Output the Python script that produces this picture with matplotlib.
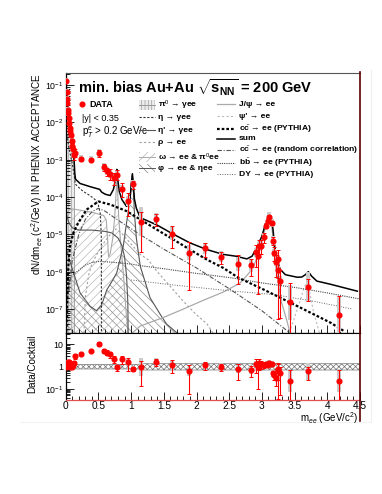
import numpy as np
import matplotlib
matplotlib.use("Agg")
import matplotlib.pyplot as plt
from matplotlib.patches import Rectangle
from matplotlib.lines import Line2D
from matplotlib.ticker import MultipleLocator, LogLocator, FixedLocator, FixedFormatter, NullFormatter

plt.rcParams['font.family'] = ['Liberation Sans', 'DejaVu Sans']
plt.rcParams['mathtext.fontset'] = 'custom'
plt.rcParams['mathtext.rm'] = 'Liberation Sans'
plt.rcParams['mathtext.it'] = 'Liberation Sans:italic'
plt.rcParams['mathtext.bf'] = 'Liberation Sans:bold'
plt.rcParams['hatch.linewidth'] = 0.5

# ---- data points (mass in GeV/c^2) ----
mass = [0.01, 0.015, 0.02, 0.025, 0.03, 0.036, 0.046, 0.05, 0.061, 0.071, 0.082, 0.092, 0.10, 0.11, 0.12, 0.14,
        0.235, 0.38, 0.505, 0.586, 0.637, 0.68, 0.74, 0.785, 0.86, 0.953, 1.035, 1.157, 1.376, 1.63, 1.88, 2.13,
        2.38, 2.63, 2.83, 2.915, 2.935, 2.96, 2.99, 3.03, 3.07, 3.09, 3.11, 3.15, 3.17, 3.19, 3.21, 3.24, 3.25,
        3.28, 3.435, 3.705, 4.18]
dndm = [0.13, 0.066, 0.042, 0.032, 0.022, 0.0175, 0.0129, 0.0095, 0.0069, 0.0057, 0.0046, 0.0032, 0.0023, 0.0019,
        0.00134, 0.00155, 1.05e-3, 1.0e-3, 1.5e-3, 6.3e-4, 4.9e-4, 4.2e-4, 3.2e-4, 4.0e-4, 1.66e-4, 7.8e-5, 2.2e-4,
        2.2e-5, 2.6e-5, 1.05e-5, 3.2e-6, 4.2e-6, 2.5e-6, 1.6e-6, 1.5e-6, 3.3e-6, 2.6e-6, 4.8e-6, 5.0e-6, 8.5e-6,
        1.7e-5, 2.3e-5, 3.0e-5, 2.0e-5, 6.8e-6, 3.2e-6, 1.8e-6, 1.1e-6, 2.2e-6, 5.8e-7, 1.5e-7, 4.0e-7, 7.1e-8]
ratio = [1.0, 1.3, 1.15, 1.2, 1.6, 1.3, 1.4, 1.6, 1.5, 1.0, 1.1, 1.0, 1.05, 1.2, 1.5, 2.9,
         3.66, 5.1, 10.2, 4.97, 4.3, 3.66, 2.12, 0.93, 2.1, 1.56, 0.8, 0.93, 1.67, 1.23, 0.6, 1.19,
         1.0, 0.79, 0.71, 1.31, 0.93, 1.4, 1.31, 1.19, 1.31, 1.19, 1.5, 1.31, 0.5, 0.43, 0.32, 0.71, 0.79,
         0.5, 0.215, 0.6, 0.215]
stat_rel = [0.03, 0.04, 0.05, 0.05, 0.06, 0.06, 0.07, 0.08, 0.1, 0.1, 0.12, 0.15, 0.2, 0.2, 0.25, 0.25,
            0.1, 0.1, 0.2, 0.2, 0.25, 0.3, 0.35, 0.3, 0.4, 0.6, 0.25, 0.85, 0.35, 0.6, 0.9, 0.4,
            0.35, 0.7, 0.5, 0.6, 0.9, 0.5, 0.4, 0.3, 0.15, 0.12, 0.1, 0.12, 0.25, 0.4, 0.6, 0.95, 0.7,
            0.9, 2.3, 0.6, 2.1]
sys_fac = [1.2, 1.2, 1.2, 1.2, 1.2, 1.2, 1.2, 1.2, 1.2, 1.2, 1.2, 1.2, 1.2, 1.2, 1.2, 1.2,
           1.25, 1.25, 1.3, 1.3, 1.3, 1.3, 1.3, 1.3, 1.3, 1.4, 1.3, 2.5, 1.4, 1.5, 1.6, 1.4,
           1.4, 1.5, 1.5, 1.3, 1.3, 1.3, 1.3, 1.3, 1.3, 1.3, 1.3, 1.3, 1.3, 1.3, 1.3, 1.3, 1.3,
           1.3, 3.0, 2.5, 3.0]

# ---- cocktail components ----
pi0_x = [0.0, 0.005, 0.02, 0.04, 0.06, 0.08, 0.10, 0.12, 0.13, 0.134, 0.135]
pi0_y = [0.14, 0.11, 0.042, 0.017, 0.0085, 0.0046, 0.0025, 0.0012, 6e-4, 2e-4, 2.3e-8]
eta_x = [0.0, 0.01, 0.05, 0.1, 0.15, 0.2, 0.25, 0.3, 0.35, 0.4, 0.45, 0.5, 0.53, 0.545, 0.547]
eta_y = [0.02, 6e-3, 2e-3, 8e-4, 2.2e-4, 1.8e-4, 1.5e-4, 1.3e-4, 1.15e-4, 1.0e-4, 8.5e-5, 6e-5, 3.5e-5, 8e-6, 2.3e-8]
etap_x = [0.0, 0.05, 0.1, 0.2, 0.3, 0.4, 0.5, 0.6, 0.7, 0.8, 0.86, 0.9, 0.93, 0.95, 0.955]
etap_y = [4e-5, 2e-5, 1.5e-5, 1.3e-5, 1.3e-5, 1.3e-5, 1.25e-5, 1.2e-5, 1.1e-5, 8e-6, 5e-6, 2.5e-6, 8e-7, 1.5e-7, 2.3e-8]
rho_x = [0.28, 0.3, 0.35, 0.4, 0.5, 0.6, 0.7, 0.77, 0.85, 1.0, 1.14, 1.26, 1.4, 1.6, 1.8, 2.0, 2.16, 2.25]
rho_y = [2.3e-8, 2e-7, 8e-7, 1.6e-6, 3.5e-6, 6.5e-6, 1.1e-5, 1.4e-5, 1.1e-5, 5.5e-6, 2.9e-6, 2.1e-6, 1e-6, 4e-7,
         1.6e-7, 7e-8, 4e-8, 2.3e-8]
omega_x = [0.0, 0.05, 0.1, 0.2, 0.3, 0.4, 0.5, 0.58, 0.62, 0.64, 0.655, 0.68, 0.72, 0.75, 0.77, 0.782, 0.795,
           0.81, 0.84, 0.88, 0.92, 0.95]
omega_y = [3e-5, 4.5e-5, 4.8e-5, 4.5e-5, 4.2e-5, 3.9e-5, 3.5e-5, 3.2e-5, 2.4e-5, 8e-6, 2.5e-6, 3e-6, 8e-6, 3e-5,
           1.3e-4, 3.2e-4, 1.3e-4, 3e-5, 6e-6, 1e-6, 1e-7, 2.3e-8]
phi_x = [0.0, 0.04, 0.1, 0.22, 0.37, 0.47, 0.55, 0.63, 0.72, 0.78, 0.88, 0.93, 0.96, 0.99, 1.005, 1.019, 1.035,
         1.05, 1.08, 1.14, 1.29, 1.45, 1.54, 1.7]
phi_y = [5e-6, 2.6e-6, 1.2e-6, 2.7e-7, 1.2e-7, 9e-8, 1.3e-7, 3.3e-7, 6e-7, 9.3e-7, 4.8e-6, 2e-5, 4.5e-5, 1.2e-4,
         2.8e-4, 4e-4, 1.6e-4, 4e-5, 8e-6, 1.4e-6, 2e-7, 7e-8, 4e-8, 2.3e-8]
jpsi_x = [1.02, 1.14, 1.5, 1.8, 2.1, 2.4, 2.67, 2.85, 2.95, 3.0, 3.05, 3.1, 3.13, 3.16, 3.2, 3.25, 3.3, 3.38, 3.43]
jpsi_y = [2.3e-8, 3.5e-8, 6e-8, 1e-7, 1.7e-7, 2.8e-7, 5e-7, 1.15e-6, 3e-6, 7e-6, 1.4e-5, 2.4e-5, 2.6e-5, 1.2e-5,
          2e-6, 5e-7, 1.5e-7, 5e-8, 2.3e-8]
psi2_x = [3.42, 3.5, 3.6, 3.65, 3.69, 3.72, 3.78, 3.84, 3.88]
psi2_y = [2.3e-8, 6e-8, 2e-7, 4e-7, 5e-7, 3.5e-7, 1e-7, 4e-8, 2.3e-8]
cc_x = [0.01, 0.03, 0.04, 0.066, 0.117, 0.19, 0.32, 0.5, 0.68, 0.93, 1.14, 1.39, 1.65, 1.9, 2.16, 2.41, 2.64,
        3.03, 3.54, 4.05, 4.25]
cc_y = [2.5e-8, 4e-7, 1.4e-6, 4.8e-6, 1.1e-5, 2.0e-5, 4.6e-5, 7.6e-5, 6.3e-5, 4.2e-5, 2.5e-5, 1.35e-5, 7.2e-6,
        3.9e-6, 2.1e-6, 1.26e-6, 6.9e-7, 3.3e-7, 1.2e-7, 4.3e-8, 2.6e-8]
ccr_x = [0.05, 0.1, 0.2, 0.3, 0.4, 0.5, 0.6, 0.8, 1.14, 1.5, 2.0, 2.5, 3.0, 3.4]
ccr_y = [3e-7, 2e-6, 1e-5, 2.5e-5, 4e-5, 5e-5, 4.2e-5, 2.4e-5, 9.8e-6, 4e-6, 1.26e-6, 3.5e-7, 9e-8, 2.5e-8]
bb_x = [0.01, 0.03, 0.06, 0.1, 0.2, 0.3, 0.4, 0.52, 0.7, 1.0, 1.14, 1.5, 2.0, 2.52, 3.0, 3.54, 4.0, 4.5]
bb_y = [1e-7, 3e-7, 6e-7, 8e-7, 1.1e-6, 1.5e-6, 1.75e-6, 1.9e-6, 1.8e-6, 1.6e-6, 1.45e-6, 1.2e-6, 9e-7, 6.9e-7,
        5e-7, 3.7e-7, 2.7e-7, 1.85e-7]
dy_x = [1.0, 1.6, 2.0, 2.57, 3.18, 3.8, 4.38]
dy_y = [6e-7, 4.5e-7, 3.8e-7, 3.0e-7, 2.45e-7, 1.6e-7, 1.0e-7]
sum_x = [0.005, 0.02, 0.04, 0.06, 0.08, 0.10, 0.12, 0.13, 0.138, 0.15, 0.22, 0.37, 0.52, 0.55, 0.6, 0.63, 0.68,
         0.73, 0.755, 0.77, 0.782, 0.795, 0.82, 0.86, 0.93, 0.98, 1.0, 1.02, 1.035, 1.05, 1.08, 1.14, 1.39, 1.65,
         1.9, 2.16, 2.41, 2.6, 2.77, 2.85, 2.92, 3.0, 3.05, 3.10, 3.14, 3.17, 3.195, 3.23, 3.28, 3.36, 3.54, 3.61,
         3.665, 3.71, 3.76, 3.84, 4.05, 4.46]
sum_y = [0.12, 0.045, 0.018, 0.009, 0.0048, 0.0027, 0.0014, 0.0009, 0.00045, 3e-4, 2.3e-4, 1.9e-4, 1.6e-4,
         1.35e-4, 1.2e-4, 1.15e-4, 1.1e-4, 1.6e-4, 2.6e-4, 3.8e-4, 5.5e-4, 3e-4, 1.4e-4, 8.5e-5, 5.6e-5, 8e-5,
         1.8e-4, 4.2e-4, 2.2e-4, 9e-5, 5e-5, 2.8e-5, 1.8e-5, 1.0e-5, 5.9e-6, 3.9e-6, 2.9e-6, 2.6e-6, 2.2e-6,
         2.6e-6, 4.4e-6, 8.9e-6, 1.8e-5, 3.2e-5, 3.0e-5, 1.35e-5, 4.8e-6, 2.1e-6, 1.15e-6, 8.3e-7, 7.1e-7, 7.2e-7,
         8.3e-7, 1.0e-6, 7.6e-7, 5.6e-7, 4.6e-7, 3.0e-7]

# cocktail uncertainty band in the ratio panel
band_x = [0.0, 1.1, 1.2, 4.5]
band_lo = [0.78, 0.78, 0.7, 0.7]
band_hi = [1.25, 1.25, 1.35, 1.35]

YMIN, YMAX = 2.28e-8, 0.216
RMIN, RMAX = 0.031, 32.7

W, H = 382.0, 494.0


def fbox(x0, y0, x1, y1):
    return [x0 / W, 1 - y1 / H, (x1 - x0) / W, (y1 - y0) / H]


fig = plt.figure(figsize=(3.82, 4.94), dpi=100)
ax = fig.add_axes(fbox(65.7, 72.5, 360, 333))
ax2 = fig.add_axes(fbox(65.7, 333, 360, 400), sharex=ax)

FLOOR = 1e-10

# hatched components
ax.fill_between(pi0_x, FLOOR, pi0_y, facecolor='#ececec', edgecolor='#a0a0a0', hatch='|||||', lw=0, zorder=1)
ax.plot(pi0_x, pi0_y, color='#999999', lw=0.6, zorder=1.5)
ax.fill_between(omega_x, FLOOR, omega_y, facecolor='none', edgecolor='#b8b8b8', hatch='////', lw=0, zorder=1)
ax.plot(omega_x, omega_y, color='#aaaaaa', lw=0.8, zorder=1.5)
ax.fill_between(phi_x, FLOOR, phi_y, facecolor='none', edgecolor='#8a8a8a', hatch='\\\\\\\\', lw=0, zorder=1)
ax.plot(phi_x, phi_y, color='#555555', lw=0.8, zorder=1.5)

# line components
ax.plot(eta_x, eta_y, color='#333333', lw=0.8, ls=(0, (2, 1.5)), zorder=2)
ax.plot(etap_x, etap_y, color='#555555', lw=0.8, zorder=2)
ax.plot(rho_x, rho_y, color='#a0a0a0', lw=0.8, ls=(0, (2, 2)), zorder=2)
ax.plot(jpsi_x, jpsi_y, color='#aaaaaa', lw=0.9, zorder=2)
ax.plot(psi2_x, psi2_y, color='#bbbbbb', lw=0.8, ls=(0, (2, 2)), zorder=2)
ax.plot(ccr_x, ccr_y, color='#555555', lw=0.8, ls=(0, (4, 1.5, 1, 1.5)), zorder=2)
ax.plot(bb_x, bb_y, color='#444444', lw=0.8, ls=(0, (1, 1)), zorder=2)
ax.plot(dy_x, dy_y, color='#666666', lw=0.7, ls=(0, (1, 1.5)), zorder=2)
ax.plot(cc_x, cc_y, color='black', lw=1.6, ls=(0, (1.2, 0.9)), zorder=2.5)
ax.plot(sum_x, sum_y, color='black', lw=1.1, zorder=2.6)

# data with systematic boxes
m = np.array(mass)
d = np.array(dndm)
r = np.array(ratio)
s = np.array(stat_rel)
f = np.array(sys_fac)

ax.bar(m, d * f - d / f, bottom=d / f, width=0.06, color='#cccccc', lw=0, zorder=3)
err_lo = np.where(s < 0.98, d * s, d - FLOOR)
ax.errorbar(m, d, yerr=[err_lo, d * s], fmt='o', color='red', ms=3.4, elinewidth=0.8,
            capsize=1.2, capthick=0.7, zorder=4)

ax.set_yscale('log')
ax.set_xlim(0, 4.5)
ax.set_ylim(YMIN, YMAX)

# ratio panel
ax2.fill_between(band_x, band_lo, band_hi, facecolor='white', edgecolor='#6e6e6e', hatch='xxxxxx', lw=0, zorder=1)
ax2.plot(band_x, band_lo, color='#888888', lw=0.6, zorder=1.5)
ax2.plot(band_x, band_hi, color='#888888', lw=0.6, zorder=1.5)
r_lo = np.maximum(r / f, 1e-4)
ax2.bar(m, r * f - r_lo, bottom=r_lo, width=0.06, color='#cccccc', lw=0, zorder=3)
rerr_lo = np.where(s < 0.98, r * s, r - 1e-4)
ax2.errorbar(m, r, yerr=[rerr_lo, r * s], fmt='o', color='red', ms=3.4, elinewidth=0.8,
             capsize=1.2, capthick=0.7, zorder=4)
ax2.set_yscale('log')
ax2.set_ylim(RMIN, RMAX)

# axes styling
for a in (ax, ax2):
    a.spines['right'].set_visible(False)
    a.spines['top'].set_color('#555555')
    a.spines['left'].set_linewidth(0.9)
    a.spines['bottom'].set_linewidth(0.9)
    a.tick_params(which='both', direction='in', top=False, right=False, width=0.6)
    a.tick_params(which='major', length=6)
    a.tick_params(which='minor', length=3)
    a.tick_params(axis='x', labelsize=7.3, pad=0.5)
    a.tick_params(axis='y', labelsize=6.3, pad=1.5)
    a.xaxis.set_major_locator(MultipleLocator(0.5))
    a.xaxis.set_minor_locator(MultipleLocator(0.1))
ax2.spines['top'].set_color('black')
ax2.spines['bottom'].set_color('#e05050')
ax.tick_params(axis='x', labelbottom=False)
ax.yaxis.set_major_locator(FixedLocator([1e-7, 1e-6, 1e-5, 1e-4, 1e-3, 1e-2, 1e-1]))
ax.yaxis.set_major_formatter(FixedFormatter(['10$^{-7}$', '10$^{-6}$', '10$^{-5}$', '10$^{-4}$',
                                             '10$^{-3}$', '10$^{-2}$', '10$^{-1}$']))
ax.yaxis.set_minor_locator(LogLocator(base=10, subs=np.arange(2, 10), numticks=20))
ax.yaxis.set_minor_formatter(NullFormatter())

ax2.yaxis.set_major_locator(FixedLocator([0.1, 1, 10]))
ax2.yaxis.set_major_formatter(FixedFormatter(['10$^{-1}$', '1', '10']))
ax2.yaxis.set_minor_locator(LogLocator(base=10, subs=np.arange(2, 10), numticks=20))
ax2.yaxis.set_minor_formatter(NullFormatter())
ax2.set_xticks([0, 0.5, 1, 1.5, 2, 2.5, 3, 3.5, 4, 4.5])
ax2.set_xticklabels(['0', '0.5', '1', '1.5', '2', '2.5', '3', '3.5', '4', '4.5'])

# axis titles
fig.text(37 / W, 1 - 72.5 / H, 'dN/dm$_{ee}$ (c$^2$/GeV) IN PHENIX ACCEPTANCE', rotation=90,
         ha='center', va='top', fontsize=7.1)
fig.text(32 / W, 1 - 334 / H, 'Data/Cocktail', rotation=90, ha='center', va='top', fontsize=7.1)
fig.text(358 / W, 1 - 410.5 / H, 'm$_{ee}$ (GeV/c$^2$)', ha='right', va='top', fontsize=7.0)

# title
ax.text(0.042, 0.92, r'min. bias Au+Au $\sqrt{\mathbf{s}_{\mathbf{NN}}}$ = 200 GeV', transform=ax.transAxes,
        fontsize=10.5, fontweight='bold', va='baseline', ha='left')

# legend, first column
ax.plot([0.0554], [0.878], 'o', color='red', ms=3.4, transform=ax.transAxes, clip_on=False)
ax.text(0.079, 0.878, 'DATA', transform=ax.transAxes, fontsize=6.5, fontweight='bold', va='center')
ax.text(0.0554, 0.825, '|y| < 0.35', transform=ax.transAxes, fontsize=6.5, va='center')
ax.text(0.0554, 0.769, 'p$_T^e$ > 0.2 GeV/c', transform=ax.transAxes, fontsize=7.0, va='center')

LX0, LX1, LT = 0.249, 0.303, 0.3136
BOXH = 0.036
FS = 6.1


def legend_box(y, face, edge, hatch, line):
    ax.add_patch(Rectangle((LX0, y - BOXH / 2), LX1 - LX0, BOXH, transform=ax.transAxes, facecolor=face,
                           edgecolor=edge, hatch=hatch, lw=0, zorder=6))
    ax.plot([LX0, LX1], [y, y], color=line, lw=0.7, transform=ax.transAxes, zorder=6.5)


def legend_line(x0, x1, y, **kw):
    ax.plot([x0, x1], [y, y], transform=ax.transAxes, zorder=6, **kw)


def legend_text(x, y, txt):
    ax.text(x, y, txt, transform=ax.transAxes, fontsize=FS, fontweight='bold', va='center')


legend_box(0.875, '#ececec', '#a0a0a0', '|||||', '#999999')
legend_text(LT, 0.875, 'π$^0$ → γee')
legend_line(LX0, LX1, 0.828, color='#333333', lw=0.8, ls=(0, (2, 1.5)))
legend_text(LT, 0.828, 'η → γee')
legend_line(LX0, LX1, 0.778, color='#555555', lw=0.8)
legend_text(LT, 0.778, "η' → γee")
legend_line(LX0, LX1, 0.733, color='#a0a0a0', lw=0.8, ls=(0, (2, 2)))
legend_text(LT, 0.733, 'ρ → ee')
legend_box(0.676, 'white', '#b8b8b8', '////', '#aaaaaa')
legend_text(LT, 0.676, 'ω → ee & π$^0$ee')
legend_box(0.632, 'white', '#8a8a8a', '\\\\\\\\', '#555555')
legend_text(LT, 0.632, 'φ → ee & ηee')

MX0, MX1, MT = 0.514, 0.575, 0.589
legend_line(MX0, MX1, 0.878, color='#aaaaaa', lw=0.9)
legend_text(MT, 0.878, 'J/ψ → ee')
legend_line(MX0, MX1, 0.832, color='#bbbbbb', lw=0.8, ls=(0, (2, 2)))
legend_text(MT, 0.832, "ψ' → ee")
legend_line(MX0, MX1, 0.783, color='black', lw=1.6, ls=(0, (1.2, 0.9)))
legend_text(MT, 0.783, r'c$\bar{\mathbf{c}}$ → ee (PYTHIA)')
legend_line(MX0, MX1, 0.745, color='black', lw=1.1)
legend_text(MT, 0.745, 'sum')
legend_line(MX0, MX1, 0.702, color='#555555', lw=0.8, ls=(0, (4, 1.5, 1, 1.5)))
legend_text(MT, 0.702, r'c$\bar{\mathbf{c}}$ → ee (random correlation)')
legend_line(MX0, MX1, 0.654, color='#444444', lw=0.8, ls=(0, (1, 1)))
legend_text(MT, 0.654, r'b$\bar{\mathbf{b}}$ → ee (PYTHIA)')
legend_line(MX0, MX1, 0.610, color='#666666', lw=0.7, ls=(0, (1, 1.5)))
legend_text(MT, 0.610, 'DY → ee (PYTHIA)')

# picture frame lines
fig.add_artist(Line2D([360 / W, 360 / W], [1 - 72.5 / H, 1 - 421 / H], color='#5a0000', lw=1.2))
fig.add_artist(Line2D([371 / W, 371 / W], [1 - 70 / H, 1 - 421 / H], color='#eeeeee', lw=0.8))
fig.add_artist(Line2D([20 / W, 371 / W], [1 - 421.5 / H, 1 - 421.5 / H], color='#f2f2f2', lw=0.8))

fig.savefig('out.png', dpi=100)
